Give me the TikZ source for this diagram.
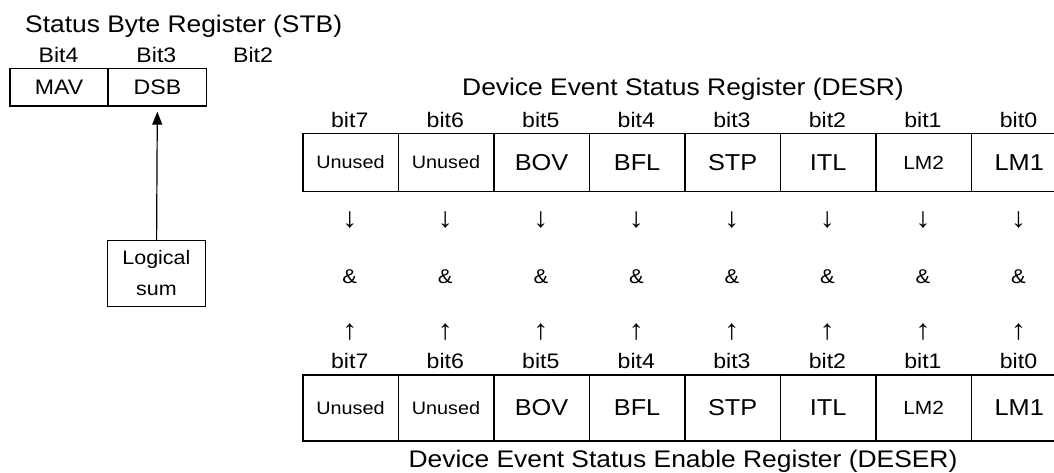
\documentclass[tikz,border=0pt]{standalone}
\usepackage{fontspec}
\setmainfont{Liberation Sans}[FakeStretch=1.1]
\usetikzlibrary{arrows.meta,positioning}

\tikzset{
  regbox/.style = {draw, line width=1.5pt, inner sep=0pt, anchor=north west},
  desrcell/.style = {regbox, minimum width=95.5pt, minimum height=58pt},
  desercell/.style = {regbox, minimum width=95.5pt, minimum height=66pt},
  stbcell/.style = {regbox, minimum width=98pt, minimum height=37.5pt,
    font=\fontsize{21}{21}\selectfont},
  txtbig/.style = {font=\fontsize{23}{23}\selectfont},
  txtsmall/.style = {font=\fontsize{18}{18}\selectfont},
  txtnarrow/.style = {font=\fontsize{19}{19}\selectfont},
  bitlab/.style = {inner sep=0pt, anchor=base, font=\fontsize{21}{21}\selectfont},
  regtitle/.style = {inner sep=0pt, anchor=base, font=\fontsize{24}{24}\selectfont},
  opsym/.style = {inner sep=0pt, font=\fontsize{20}{20}\selectfont},
  arrsym/.style = {inner sep=0pt, font=\fontsize{28}{28}\selectfont},
  sumarrow/.style = {-{Triangle[width=10pt,length=13pt]}, line width=1.2pt, shorten >=5pt}
}

\begin{document}
\begin{tikzpicture}[x=1pt, y=-1pt]
  \useasboundingbox (0,0) rectangle (1054,473);
  \clip (0,0) rectangle (1054,473);

  % Status Byte Register
  \node[regtitle, anchor=base west] (stbtitle) at (25,33) {Status Byte Register (STB)};
  \node[stbcell] (mav) at (9.3,67.7) {MAV};
  \node[stbcell] (dsb) at (107.7,67.7) {DSB};
  \node[bitlab] (stbbit4) at (58.5,63) {Bit4};
  \node[bitlab] (stbbit3) at (156.4,63) {Bit3};
  \node[bitlab] (stbbit2) at (253,63) {Bit2};

  \node[draw, line width=1.5pt, minimum width=98pt, minimum height=66pt, inner sep=0pt,
    align=center, font=\fontsize{19.5}{31}\selectfont] (logsum) at (156.4,273.5) {Logical\\sum};
  \draw[sumarrow] (logsum) -- (dsb);

  % DESR and DESER
  \node[regtitle] (desrtitle) at (683,96) {Device Event Status Register (DESR)};
  \node[regtitle] (desertitle) at (683,467) {Device Event Status Enable Register (DESER)};

  \foreach \name/\sty [count=\i from 0] in {Unused/txtsmall, Unused/txtsmall, BOV/txtbig,
      BFL/txtbig, STP/txtbig, ITL/txtbig, LM2/txtnarrow, LM1/txtbig} {
    \pgfmathsetmacro{\x}{302+95.53*\i}
    \pgfmathsetmacro{\cx}{\x+47.77}
    \pgfmathtruncatemacro{\b}{7-\i}
    \node[desrcell, \sty] (desr\b) at (\x,132.7) {\name};
    \node[desercell, \sty] (deser\b) at (\x,374) {\name};
    \node[bitlab] (desrbit\b) at (\cx,127.3) {bit\b};
    \node[bitlab] (deserbit\b) at (\cx,368.5) {bit\b};
    \node[arrsym] (down\b) at (\cx,220) {↓};
    \node[opsym, anchor=base] (and\b) at (\cx,283.3) {\&};
    \node[arrsym] (up\b) at (\cx,331.7) {↑};
  }
\end{tikzpicture}
\end{document}
